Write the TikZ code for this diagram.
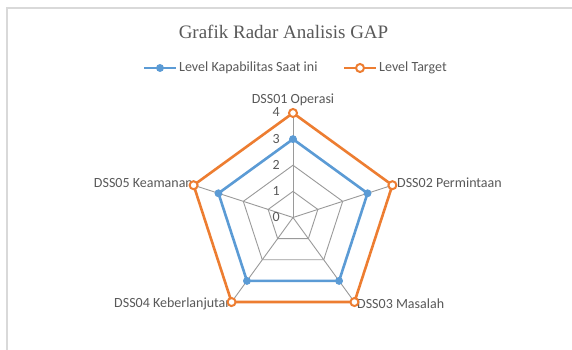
\documentclass[tikz,border=0pt]{standalone}
\usepackage{fontspec}
\setmainfont{Carlito}
\newfontfamily\titlefont{Liberation Serif}
\usetikzlibrary{calc}
\definecolor{txtgray}{HTML}{595959}
\definecolor{gridgray}{HTML}{9A9A9A}
\definecolor{framegray}{HTML}{D9D9D9}
\definecolor{serblue}{HTML}{5B9BD5}
\definecolor{serorange}{HTML}{ED7D31}
\tikzset{
  lbl/.style={text=txtgray, font=\fontsize{14}{16}\selectfont, inner sep=0pt},
  gridline/.style={draw=gridgray, line width=0.9pt},
  blueline/.style={draw=serblue, line width=2.6pt, line join=round},
  orangeline/.style={draw=serorange, line width=2.6pt, line join=round},
  bluemark/.style={circle, fill=serblue, draw=serblue, line width=0.8pt, minimum size=7pt, inner sep=0pt},
  orangemark/.style={circle, fill=white, draw=serorange, line width=2pt, minimum size=8pt, inner sep=0pt},
}
\begin{document}
\begin{tikzpicture}[x=1pt,y=1pt]
\useasboundingbox (0,0) rectangle (572,350);
\fill[white] (0,0) rectangle (572,350);
% frame
\draw[framegray, line width=1.2pt] (7,0) -- (7,342) -- (572,342);
% title
\node[text=txtgray, font=\titlefont\fontsize{19}{22}\selectfont, inner sep=0pt] (title) at (283.5,318) {Grafik Radar Analisis GAP};
% legend
\coordinate (lb1) at (144,282);
\coordinate (lb2) at (176,282);
\draw[blueline] (lb1) -- (lb2);
\node[bluemark] (lbm) at (160,282) {};
\node[lbl, anchor=west] (lbt) at (179,282) {Level Kapabilitas Saat ini};
\coordinate (lo1) at (344,282);
\coordinate (lo2) at (376,282);
\draw[orangeline] (lo1) -- (lo2);
\node[orangemark] (lom) at (360,282) {};
\node[lbl, anchor=west] (lot) at (379,282) {Level Target};
% radar
\coordinate (c) at (293,132.5);
\def\unit{26.125}
\foreach \k in {1,...,4}{
  \draw[gridline] ($(c)+(90:\k*\unit)$) -- ($(c)+(18:\k*\unit)$) -- ($(c)+(-54:\k*\unit)$) -- ($(c)+(-126:\k*\unit)$) -- ($(c)+(162:\k*\unit)$) -- cycle;
}
\foreach \a/\n in {90/1,18/2,-54/3,-126/4,162/5}{
  \coordinate (ax\n) at ($(c)+(\a:4*\unit)$);
  \draw[gridline] (c) -- (ax\n);
  \coordinate (b\n) at ($(c)+(\a:3*\unit)$);
  \coordinate (o\n) at ($(c)+(\a:4*\unit)$);
}
% scale labels
\foreach \k in {0,...,4}{
  \node[lbl, anchor=east] (s\k) at (280,133+\k*\unit) {\k};
}
% series
\draw[blueline] (b1) -- (b2) -- (b3) -- (b4) -- (b5) -- cycle;
\draw[orangeline] (o1) -- (o2) -- (o3) -- (o4) -- (o5) -- cycle;
\foreach \n in {1,...,5}{
  \node[bluemark] (bm\n) at (b\n) {};
}
% axis labels
\node[lbl, anchor=base] (l1) at (293,246.5) {DSS01 Operasi};
\node[lbl, anchor=west] (l2) at (397,167) {DSS02 Permintaan};
\node[lbl, anchor=west] (l3) at (357,46) {DSS03 Masalah};
\node[lbl, anchor=east] (l4) at (233,46) {DSS04 Keberlanjutan};
\node[lbl, anchor=east] (l5) at (193,167) {DSS05 Keamanan};
\foreach \n in {1,...,5}{
  \node[orangemark] (om\n) at (o\n) {};
}
\end{tikzpicture}
\end{document}
